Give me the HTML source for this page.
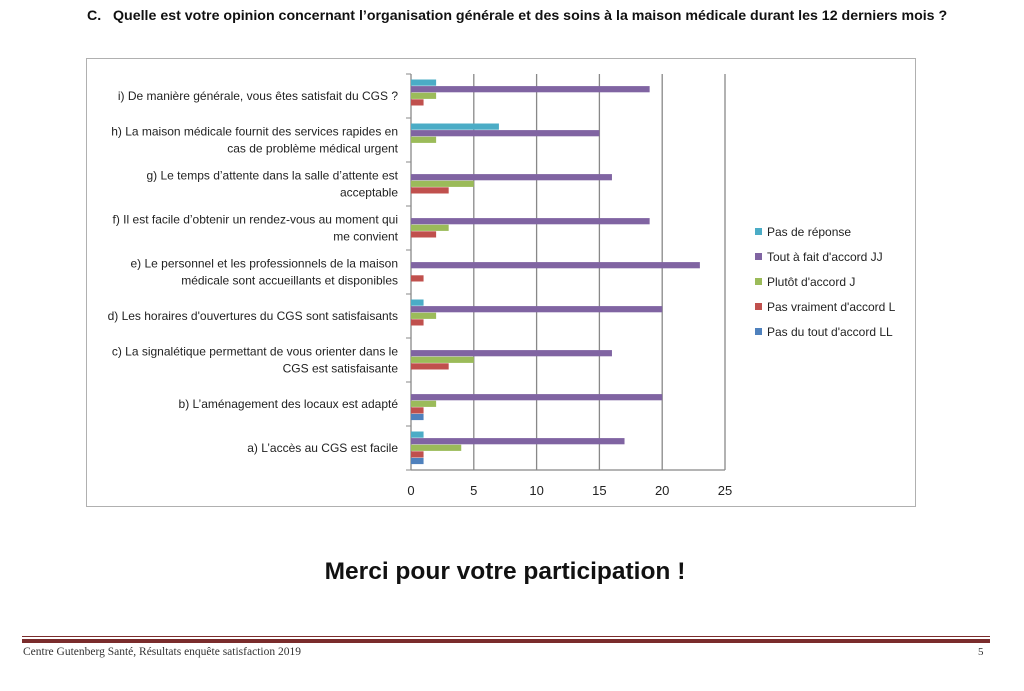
<!DOCTYPE html>
<html><head><meta charset="utf-8"><style>
body{margin:0;background:#fff;width:1024px;height:691px;overflow:hidden;position:relative;font-family:"Liberation Sans",sans-serif}
.abs{position:absolute}
</style></head><body>
<div class="abs" style="left:87px;top:8px;font-size:14.2px;font-weight:bold;color:#111;white-space:nowrap">C.&nbsp;&nbsp;&nbsp;Quelle est votre opinion concernant l’organisation générale et des soins à la maison médicale durant les 12 derniers mois ?</div>
<svg class="abs" style="left:0;top:0" width="1024" height="691" id="chart"></svg>
<div class="abs" style="left:0;width:1010px;top:558px;text-align:center;font-size:24.5px;font-weight:bold;color:#111">Merci pour votre participation !</div>
<div class="abs" style="left:22px;top:636px;width:968px;height:1px;background:#7a2c2c"></div>
<div class="abs" style="left:22px;top:639px;width:968px;height:4px;background:#7a2c2c"></div>
<div class="abs" style="left:23px;top:646px;font-family:'Liberation Serif',serif;font-size:11.5px;color:#333">Centre Gutenberg Santé, Résultats enquête satisfaction 2019</div>
<div class="abs" style="left:978px;top:646px;font-family:'Liberation Serif',serif;font-size:11px;color:#333">5</div>
<script>
const categories=["i) De manière générale, vous êtes satisfait du CGS ?","h) La maison médicale fournit des services rapides en|cas de problème médical urgent","g) Le temps d’attente dans la salle d’attente est|acceptable","f) Il est facile d’obtenir un rendez-vous au moment qui|me convient","e) Le personnel et les professionnels de la maison|médicale sont accueillants et disponibles","d) Les horaires d'ouvertures du CGS sont satisfaisants","c) La signalétique permettant de vous orienter dans le|CGS est satisfaisante","b) L’aménagement des locaux est adapté","a) L’accès au CGS est facile"];
const seriesNames=["Pas de réponse","Tout à fait d'accord JJ","Plutôt d'accord J","Pas vraiment d'accord L","Pas du tout d'accord LL"];
const seriesColors=["#4bacc6","#8064a2","#9bbb59","#c0504d","#4f81bd"];
const pasDeReponse=[2,7,0,0,0,1,0,0,1];
const toutAFait=[19,15,16,19,23,20,16,20,17];
const plutot=[2,2,5,3,0,2,5,2,4];
const pasVraiment=[1,0,3,2,1,1,3,1,1];
const pasDuTout=[0,0,0,0,0,0,0,1,1];
const xTicks=[0,5,10,15,20,25];
const series=[pasDeReponse,toutAFait,plutot,pasVraiment,pasDuTout];
const svg=document.getElementById('chart');const NS='http://www.w3.org/2000/svg';
const X0=411,X1=725,Y0=74,Y1=470;
const xs=v=>X0+(v-xTicks[0])/(xTicks[xTicks.length-1]-xTicks[0])*(X1-X0);
const band=(Y1-Y0)/categories.length;
function mk(t,a){const e=document.createElementNS(NS,t);for(const k in a)e.setAttribute(k,a[k]);svg.appendChild(e);return e;}
let fr=mk('rect',{x:86.5,y:58.5,width:829,height:448,fill:'none',stroke:'#b0b0b0'});


xTicks.forEach(t=>{
 if(t>0){let g=mk('line',{x1:xs(t),x2:xs(t),y1:Y0,y2:Y1,stroke:'#888','stroke-width':1.3});
 
 }
 let l=mk('text',{x:xs(t),y:Y1+25,'text-anchor':'middle','font-size':13,fill:'#222','font-family':'Liberation Sans, sans-serif'});l.textContent=t;
 
 
});
let ax=mk('line',{x1:X0,x2:X1,y1:Y1,y2:Y1,stroke:'#888','stroke-width':1.3});


let ay=mk('line',{x1:X0,x2:X0,y1:Y0,y2:Y1,stroke:'#888','stroke-width':1.3});


for(let i=0;i<=categories.length;i++){let tk=mk('line',{x1:X0-5,x2:X0,y1:Y0+i*band,y2:Y0+i*band,stroke:'#888'});
 
 }
const bh=6.6,off=(band-5*bh)/2;
categories.forEach((c,i)=>{
 const top=Y0+i*band;
 series.forEach((s,j)=>{if(s[i]>0){let r=mk('rect',{x:X0,y:top+off+j*bh,width:xs(s[i])-X0,height:bh-0.4,fill:seriesColors[j]});
  
  }});
 const lines=c.split('|');
 const cy=top+band/2;
 lines.forEach((ln,k)=>{let t=mk('text',{x:398,y:cy+4+(k-(lines.length-1)/2)*17,'text-anchor':'end','font-size':12,fill:'#222','font-family':'Liberation Sans, sans-serif'});t.textContent=ln;
  
  });
});
seriesNames.forEach((n,j)=>{const y=232+j*25;
 let r=mk('rect',{x:755,y:y-4,width:7,height:7,fill:seriesColors[j]});
 
 
 let t=mk('text',{x:767,y:y+4,'font-size':12,fill:'#222','font-family':'Liberation Sans, sans-serif'});t.textContent=n;
 
 
});
</script>
</body></html>
